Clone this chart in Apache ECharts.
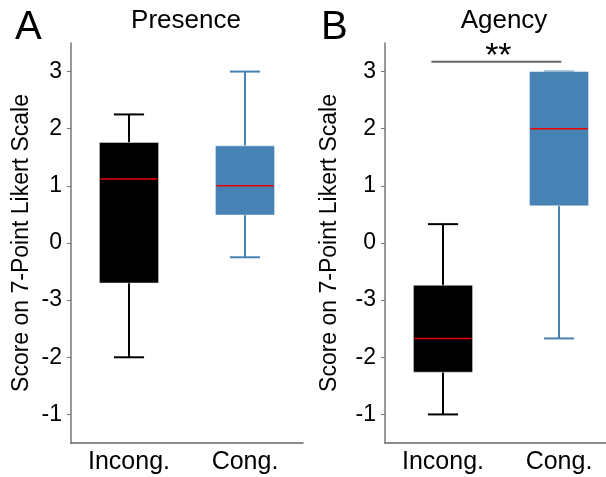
<!DOCTYPE html>
<html>
<head>
<meta charset="utf-8">
<script src="https://cdn.jsdelivr.net/npm/echarts@6/dist/echarts.min.js"></script>
<style>
  html, body { margin: 0; padding: 0; background: #fff; }
  #main { width: 606px; height: 477px; }
</style>
</head>
<body>
<div id="main"></div>
<script>
var categories = ['Incong.', 'Cong.'];
// each row: [low whisker, q1, median, q3, high whisker]
var presence = [
  [-2.0, -0.70, 1.12, 1.76, 2.25],
  [-0.25, 0.49, 1.0, 1.70, 3.0]
];
var agency = [
  [-3.0, -2.26, -1.67, -0.74, 0.33],
  [-1.67, 0.65, 2.0, 3.0, 3.0]
];
var boxColors = ['#000000', '#4682b4'];
var tickValues = [3, 2, 1, 0, -1, -2, -3];
var tickLabels = ['3', '2', '1', '0', '-3', '-2', '-1'];
// significance bar for Agency: from category 0 to 1 at this height
var agencySig = [[0, 1, 3.17]];
var sigText = '**';

var FONT = '"Liberation Sans", Arial, sans-serif';

var chartDom = document.getElementById('main');
var myChart = echarts.init(chartDom);

function renderBox(params, api) {
  var x = api.value(0);
  var low = api.coord([x, api.value(1)]);
  var q1 = api.coord([x, api.value(2)]);
  var med = api.coord([x, api.value(3)]);
  var q3 = api.coord([x, api.value(4)]);
  var high = api.coord([x, api.value(5)]);
  var band = api.size([1, 0])[0];
  var boxW = band * 0.51;
  var capW = band * 0.26;
  var cx = low[0];
  var color = boxColors[x];
  var lineStyle = { stroke: color, lineWidth: 2 };
  return {
    type: 'group',
    children: [
      { type: 'line', shape: { x1: cx, y1: low[1], x2: cx, y2: q1[1] }, style: lineStyle },
      { type: 'line', shape: { x1: cx, y1: q3[1], x2: cx, y2: high[1] }, style: lineStyle },
      { type: 'line', shape: { x1: cx - capW / 2, y1: low[1], x2: cx + capW / 2, y2: low[1] }, style: lineStyle },
      { type: 'line', shape: { x1: cx - capW / 2, y1: high[1], x2: cx + capW / 2, y2: high[1] }, style: lineStyle },
      {
        type: 'rect',
        shape: { x: cx - boxW / 2, y: q3[1], width: boxW, height: q1[1] - q3[1] },
        style: { fill: color, stroke: 'rgba(255,255,255,0.45)', lineWidth: 1 }
      },
      {
        type: 'line',
        shape: { x1: cx - boxW / 2 + 1, y1: med[1], x2: cx + boxW / 2 - 1, y2: med[1] },
        style: { stroke: '#ee0000', lineWidth: 1.5 }
      }
    ]
  };
}

function renderSig(params, api) {
  var y = api.value(2);
  var p0 = api.coord([api.value(0), y]);
  var p1 = api.coord([api.value(1), y]);
  var band = api.size([1, 0])[0];
  var x1 = p0[0] - band * 0.1;
  var x2 = p1[0] + band * 0.02;
  return {
    type: 'group',
    children: [
      { type: 'line', shape: { x1: x1, y1: p0[1], x2: x2, y2: p0[1] }, style: { stroke: '#666', lineWidth: 2 } },
      {
        type: 'text',
        style: {
          text: sigText, x: (x1 + x2) / 2 + 2, y: p0[1] + 12,
          align: 'center', verticalAlign: 'bottom',
          font: '34px ' + FONT, fill: '#000'
        }
      }
    ]
  };
}

function xAxisFor(gridIndex) {
  return {
    type: 'category',
    gridIndex: gridIndex,
    data: categories,
    axisLine: { onZero: false, lineStyle: { color: '#666', width: 1.5 } },
    axisTick: { alignWithLabel: true, length: 3, lineStyle: { color: '#aaa' } },
    axisLabel: { color: '#000', fontSize: 25, fontFamily: FONT, margin: 7 },
    splitLine: { show: false }
  };
}

function yAxisFor(gridIndex, nameGap) {
  return {
    type: 'value',
    gridIndex: gridIndex,
    min: -3.5,
    max: 3.5,
    name: 'Score on 7-Point Likert Scale',
    nameLocation: 'middle',
    nameRotate: 90,
    nameGap: nameGap,
    nameTextStyle: { color: '#000', fontSize: 23, fontFamily: FONT },
    axisLine: { show: true, lineStyle: { color: '#777', width: 1.5 } },
    axisTick: { show: true, length: 4, customValues: tickValues, lineStyle: { color: '#777' } },
    axisLabel: {
      color: '#000', fontSize: 23, fontFamily: FONT, margin: 9,
      customValues: tickValues,
      formatter: function (v) {
        var i = tickValues.indexOf(Math.round(v));
        return i >= 0 ? tickLabels[i] : '';
      }
    },
    splitLine: { show: false }
  };
}

var option = {
  animation: false,
  backgroundColor: '#fff',
  title: [
    { text: 'A', left: 15, top: 8, padding: 0, textStyle: { fontSize: 40, fontWeight: 'normal', color: '#000', fontFamily: FONT } },
    { text: 'B', left: 321, top: 8, padding: 0, textStyle: { fontSize: 40, fontWeight: 'normal', color: '#000', fontFamily: FONT } },
    { text: 'Presence', left: 186, textAlign: 'center', top: 8, padding: 0, textStyle: { fontSize: 26, fontWeight: 'normal', color: '#000', fontFamily: FONT } },
    { text: 'Agency', left: 504, textAlign: 'center', top: 8, padding: 0, textStyle: { fontSize: 26, fontWeight: 'normal', color: '#000', fontFamily: FONT } }
  ],
  grid: [
    { left: 71, top: 43, width: 232, height: 400, outerBoundsMode: 'none' },
    { left: 385, top: 43, width: 232, height: 400, outerBoundsMode: 'none' }
  ],
  xAxis: [xAxisFor(0), xAxisFor(1)],
  yAxis: [yAxisFor(0, 38), yAxisFor(1, 44)],
  series: [
    {
      name: 'Presence', type: 'custom', xAxisIndex: 0, yAxisIndex: 0,
      renderItem: renderBox,
      encode: { x: 0, y: [1, 2, 3, 4, 5] },
      data: presence.map(function (d, i) { return [i].concat(d); })
    },
    {
      name: 'Agency', type: 'custom', xAxisIndex: 1, yAxisIndex: 1,
      renderItem: renderBox,
      encode: { x: 0, y: [1, 2, 3, 4, 5] },
      data: agency.map(function (d, i) { return [i].concat(d); })
    },
    {
      name: 'Significance', type: 'custom', xAxisIndex: 1, yAxisIndex: 1,
      renderItem: renderSig,
      encode: { y: 2 },
      clip: false,
      data: agencySig
    }
  ]
};

option && myChart.setOption(option);
</script>
</body>
</html>
